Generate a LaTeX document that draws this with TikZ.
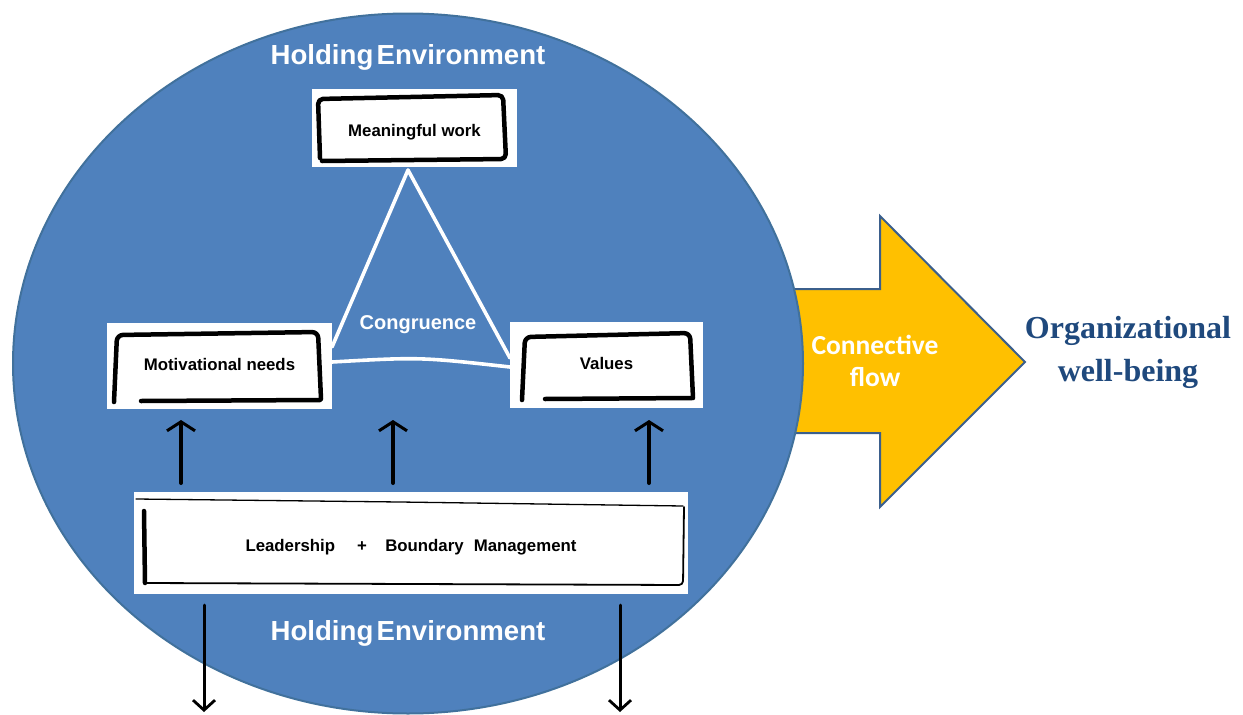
\documentclass[tikz,border=0pt]{standalone}
\usepackage{fontspec}
\setmainfont{Liberation Sans}
\newfontfamily\calfont{Carlito}
\newfontfamily\timesfont{Liberation Serif}
\usetikzlibrary{arrows.meta}
\definecolor{hblue}{HTML}{4F81BD}
\definecolor{hborder}{HTML}{41719C}
\definecolor{ayellow}{HTML}{FFC000}
\definecolor{aborder}{HTML}{3B5F8C}
\definecolor{wbtext}{HTML}{1F497D}
\tikzset{
  whitebox/.style={draw=none, fill=white, inner sep=0pt},
  boxtext/.style={font=\bfseries\fontsize{16.8}{19}\selectfont, inner sep=0pt},
  sketchline/.style={line width=4.5pt, line cap=round, line join=round, black},
  thinsketch/.style={line width=1.8pt, line cap=round, line join=round, black},
  uparrow/.style={line width=4pt, line cap=round, -{Straight Barb[length=9pt,width=28pt,line width=3pt]}},
  downarrow/.style={line width=3pt, line cap=round, -{Straight Barb[length=10pt,width=22pt,line width=2.8pt]}},
  envlabel/.style={text=white, font=\bfseries\fontsize{27.6}{32}\selectfont},
}
\begin{document}
\begin{tikzpicture}[x=1pt,y=-1pt]
\useasboundingbox (0,0) rectangle (1243,715);
% yellow arrow
\draw[fill=ayellow, draw=aborder, line width=2pt, line join=miter]
  (780,289) -- (880,289) -- (880,216) -- (1025,362) -- (880,507) -- (880,433) -- (780,433) -- cycle;
% big ellipse
\draw[fill=hblue, draw=hborder, line width=2pt] (408,363.5) ellipse [x radius=395pt, y radius=350pt];
% texts
\node[envlabel] (htop) at (408,57) {Holding\hspace{0.12em}Environment};
\node[envlabel] (hbot) at (408,633) {Holding\hspace{0.12em}Environment};
\node[text=white, font=\calfont\bfseries\fontsize{27.5}{32}\selectfont, align=center] (flow) at (875,361) {Connective\\flow};
\node[text=wbtext, font=\timesfont\bfseries\fontsize{32}{43}\selectfont, align=center] (owb) at (1128,352) {Organizational\\well-being};
% boxes
\node[whitebox, minimum width=205pt, minimum height=78pt,
  label={[boxtext, yshift=-4pt]center:Meaningful work}] (mw) at (414.5,128) {};
\node[whitebox, minimum width=225pt, minimum height=86pt,
  label={[boxtext, yshift=2pt]center:Motivational needs}] (mot) at (219.5,366) {};
\node[whitebox, minimum width=193pt, minimum height=86pt,
  label={[boxtext, yshift=1.5pt]center:Values}] (val) at (606.5,365) {};
\node[whitebox, minimum width=554pt, minimum height=102pt,
  label={[boxtext, yshift=-4pt]center:Leadership\hspace{1.3em}+\hspace{1.1em}Boundary\hspace{0.6em}Management}] (lead) at (411,543) {};
% sketch borders
\draw[sketchline, rounded corners=5pt] (320,158) -- (318,99) -- (503,95) -- (506,159) -- (322,161);
\draw[sketchline, rounded corners=6pt] (114,402) -- (117,335) -- (318,332) -- (321,399);
\draw[sketchline] (141,401) -- (320,400);
\draw[sketchline, rounded corners=6pt] (522,400) -- (525,337) -- (690,333) -- (693,398);
\draw[sketchline] (545,399) -- (692,398);
\draw[line width=1.3pt, line cap=round] (136,499) -- (400,502) -- (683,506);
\draw[sketchline] (144,511) -- (145,583);
\draw[thinsketch, rounded corners=4pt] (145,583) -- (683,585) -- (684,507);
% triangle
\draw[white, line width=3.6pt, line join=round, line cap=round] (332,347) -- (408,170) -- (510,358);
\draw[white, line width=3.6pt, line cap=round] (332,362) .. controls (420,357) .. (510,367);
\node[text=white, font=\bfseries\fontsize{20}{24}\selectfont] (cong) at (418,325) {Congruence};
% up arrows
\coordinate (u1a) at (181,483); \coordinate (u1b) at (181,420);
\coordinate (u2a) at (393,483); \coordinate (u2b) at (393,420);
\coordinate (u3a) at (649,483); \coordinate (u3b) at (649,420);
\draw[uparrow] (u1a) -- (u1b);
\draw[uparrow] (u2a) -- (u2b);
\draw[uparrow] (u3a) -- (u3b);
% down arrows
\coordinate (d1a) at (204,605); \coordinate (d1b) at (204,712);
\coordinate (d2a) at (620,605); \coordinate (d2b) at (620,712);
\draw[downarrow] (d1a) -- (d1b);
\draw[downarrow] (d2a) -- (d2b);
\end{tikzpicture}
\end{document}
